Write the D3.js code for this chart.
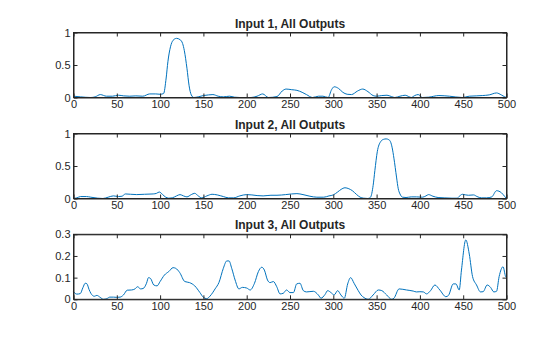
<!DOCTYPE html>
<html>
<head>
<meta charset="utf-8">
<script src="https://cdn.jsdelivr.net/npm/d3@7"></script>
<style>
  html, body { margin: 0; padding: 0; background: #fff; }
  svg { display: block; }
  .tick text { font-family: "Liberation Sans", Arial, Helvetica, sans-serif; font-size: 11px; fill: #262626; }
  .title { font-family: "Liberation Sans", Arial, Helvetica, sans-serif; font-size: 12px; font-weight: bold; fill: #262626; }
</style>
</head>
<body>
<svg id="chart" width="560" height="337"></svg>
<script>
// Frequency grid positions and magnitudes for each input (all outputs)
const input1X = [0, 8, 20, 25, 31, 38, 45, 52, 58, 65, 72, 80, 88, 95, 100, 104, 107, 109, 112, 115, 119, 123, 126, 128, 131, 133.5, 136, 139, 144, 150, 156, 161, 167, 173, 180, 186, 192, 205, 212, 218.5, 225, 235, 241, 245.5, 252, 258, 264, 269, 276, 283, 288, 294, 298, 301, 306, 311, 316, 321, 328, 334, 340, 346, 350, 356, 362, 367, 371, 377, 383, 387, 390, 394, 398, 403, 410, 422, 434, 449, 457, 465, 472, 480, 488.5, 494, 498, 500];
const input1Y = [0.02, 0.01, 0.0, 0.01, 0.045, 0.02, 0.02, 0.035, 0.025, 0.02, 0.025, 0.02, 0.055, 0.055, 0.05, 0.06, 0.3, 0.55, 0.78, 0.88, 0.91, 0.89, 0.83, 0.72, 0.45, 0.18, 0.04, 0.0, 0.01, 0.03, 0.04, 0.045, 0.02, 0.01, 0.02, 0.005, 0.0, 0.0, 0.02, 0.055, 0.0, 0.015, 0.1, 0.13, 0.12, 0.11, 0.08, 0.045, 0.0, 0.02, 0.02, 0.0, 0.12, 0.165, 0.14, 0.08, 0.05, 0.045, 0.1, 0.13, 0.09, 0.03, 0.02, 0.03, 0.035, 0.015, 0.0, 0.02, 0.035, 0.015, 0.0, 0.03, 0.045, 0.0, 0.005, 0.03, 0.02, 0.0, 0.02, 0.025, 0.03, 0.04, 0.07, 0.04, 0.01, 0.0];

const input2X = [0, 4, 8, 15, 20, 28, 34, 40, 46, 52, 56, 60, 66, 73, 82, 92, 96, 99, 103, 106, 110, 114, 119, 123, 127, 131, 136, 140, 144, 148, 154, 160, 166, 173, 179, 185, 192, 200, 206, 212, 219, 228, 235, 245, 252, 258, 265, 273, 281, 289, 295, 300, 305, 309, 313.5, 318, 322, 327, 331, 335, 340, 343, 346, 348, 350.8, 354.7, 358, 361, 364, 366, 368, 370, 373, 375, 377, 380, 384, 390, 396, 403, 407, 410, 415, 421, 428, 437, 443, 446, 449, 453, 456, 462, 466, 471, 477, 483, 488.5, 494, 498, 500];
const input2Y = [0.0, 0.01, 0.03, 0.03, 0.02, 0.005, 0.0, 0.02, 0.04, 0.03, 0.035, 0.07, 0.065, 0.06, 0.065, 0.07, 0.08, 0.1, 0.06, 0.025, 0.005, 0.01, 0.04, 0.06, 0.04, 0.025, 0.06, 0.08, 0.04, 0.01, 0.04, 0.065, 0.055, 0.03, 0.01, 0.01, 0.04, 0.06, 0.055, 0.045, 0.04, 0.05, 0.05, 0.06, 0.07, 0.075, 0.06, 0.035, 0.02, 0.02, 0.04, 0.055, 0.1, 0.14, 0.165, 0.15, 0.12, 0.06, 0.02, 0.005, 0.0, 0.02, 0.2, 0.43, 0.72, 0.875, 0.91, 0.917, 0.905, 0.875, 0.78, 0.62, 0.33, 0.15, 0.07, 0.02, 0.015, 0.025, 0.025, 0.02, 0.04, 0.06, 0.035, 0.015, 0.01, 0.005, 0.005, 0.04, 0.065, 0.055, 0.05, 0.055, 0.03, 0.01, 0.01, 0.025, 0.12, 0.09, 0.03, 0.0];

const input3X = [0, 3.8, 7.7, 11, 13.5, 15.4, 18, 20, 24, 27, 30.8, 34.6, 38.5, 42, 46, 50, 53.8, 57.7, 62, 67, 71, 74, 77.5, 80.5, 84.3, 86.6, 89, 92.7, 96.5, 100, 105, 110, 115, 118, 122.7, 128.5, 134, 140, 146, 150, 153.8, 157.7, 163.5, 168, 173, 177, 179.6, 182.7, 186.6, 191, 195, 200, 204, 209, 213.5, 217.4, 220.4, 224, 227, 230.8, 234.7, 238.5, 242.3, 246, 250, 254, 257.7, 261.5, 265.4, 269, 277, 282.7, 285.8, 290.4, 293.5, 297.3, 301, 305, 308.8, 312.7, 316.6, 320, 324, 328.8, 332, 335.4, 340.4, 346, 352, 356, 361.6, 367.4, 370, 376, 384.6, 392.3, 396, 400, 404, 407.7, 412.3, 417.3, 423, 430, 433, 438.5, 441.6, 445.4, 448, 453, 457, 460.8, 465.4, 470, 473, 477.7, 481.6, 485.4, 488.5, 491.5, 496, 499, 500];
const input3Y = [0.035, 0.024, 0.026, 0.055, 0.074, 0.072, 0.045, 0.028, 0.014, 0.018, 0.009, 0.0, 0.003, 0.01, 0.01, 0.009, 0.01, 0.02, 0.042, 0.043, 0.048, 0.058, 0.048, 0.05, 0.074, 0.1, 0.096, 0.066, 0.062, 0.082, 0.112, 0.128, 0.146, 0.143, 0.123, 0.082, 0.077, 0.062, 0.031, 0.009, 0.003, 0.015, 0.048, 0.078, 0.143, 0.177, 0.177, 0.143, 0.089, 0.048, 0.055, 0.052, 0.043, 0.074, 0.128, 0.148, 0.135, 0.089, 0.077, 0.082, 0.058, 0.025, 0.028, 0.043, 0.031, 0.031, 0.071, 0.074, 0.04, 0.034, 0.037, 0.02, 0.005, 0.022, 0.04, 0.031, 0.02, 0.04, 0.02, 0.005, 0.071, 0.1, 0.074, 0.04, 0.02, 0.008, 0.0, 0.02, 0.043, 0.04, 0.02, 0.0, 0.005, 0.048, 0.043, 0.038, 0.034, 0.035, 0.034, 0.025, 0.04, 0.066, 0.043, 0.012, 0.018, 0.071, 0.071, 0.043, 0.135, 0.274, 0.209, 0.105, 0.066, 0.034, 0.035, 0.066, 0.055, 0.034, 0.037, 0.105, 0.15, 0.105, 0.1];

const titles = ["Input 1, All Outputs", "Input 2, All Outputs", "Input 3, All Outputs"];
const xTicks = [0, 50, 100, 150, 200, 250, 300, 350, 400, 450, 500];
const yTicks1 = [0, 0.5, 1];
const yTicks2 = [0, 0.5, 1];
const yTicks3 = [0, 0.1, 0.2, 0.3];
const yMax = [1, 1, 0.3];

const panels = [
  { title: titles[0], xs: input1X, ys: input1Y, yTicks: yTicks1, yMax: yMax[0], top: 32.5 },
  { title: titles[1], xs: input2X, ys: input2Y, yTicks: yTicks2, yMax: yMax[1], top: 133.5 },
  { title: titles[2], xs: input3X, ys: input3Y, yTicks: yTicks3, yMax: yMax[2], top: 234.3 }
];

const left = 73.5, right = 506.5, plotH = 65;
const axisColor = "#262626";
const lineColor = "#0072BD";
const svg = d3.select("#chart");

panels.forEach(p => {
  const x = d3.scaleLinear().domain([0, 500]).range([left, right]);
  const y = d3.scaleLinear().domain([0, p.yMax]).range([p.top + plotH, p.top]);
  const g = svg.append("g");

  const fmt = d => String(d);

  // data trace
  const pts = p.xs.map((v, i) => [v, p.ys[i]]);
  g.append("path")
    .datum(pts)
    .attr("fill", "none")
    .attr("stroke", lineColor)
    .attr("stroke-width", 1)
    .attr("stroke-linejoin", "round")
    .attr("d", d3.line().x(d => x(d[0])).y(d => y(d[1])).curve(d3.curveMonotoneX));

  // axes: inward ticks on all four sides
  const bottom = g.append("g").attr("transform", `translate(0,${p.top + plotH})`)
    .call(d3.axisBottom(x).tickValues(xTicks).tickFormat(fmt).tickSize(-4).tickPadding(3).tickSizeOuter(0));
  const top = g.append("g").attr("transform", `translate(0,${p.top})`)
    .call(d3.axisTop(x).tickValues(xTicks).tickFormat("").tickSize(-4).tickSizeOuter(0));
  const leftAx = g.append("g").attr("transform", `translate(${left},0)`)
    .call(d3.axisLeft(y).tickValues(p.yTicks).tickFormat(fmt).tickSize(-4).tickPadding(3).tickSizeOuter(0));
  const rightAx = g.append("g").attr("transform", `translate(${right},0)`)
    .call(d3.axisRight(y).tickValues(p.yTicks).tickFormat("").tickSize(-4).tickSizeOuter(0));

  [bottom, top, leftAx, rightAx].forEach(a => {
    a.select(".domain").attr("stroke", axisColor);
    a.selectAll(".tick line").attr("stroke", axisColor);
    a.attr("font-size", null).attr("font-family", null);
  });

  g.append("rect")
    .attr("x", left).attr("y", p.top)
    .attr("width", right - left).attr("height", plotH)
    .attr("fill", "none").attr("stroke", axisColor).attr("stroke-width", 1);

  g.append("text")
    .attr("class", "title")
    .attr("x", (left + right) / 2)
    .attr("y", p.top - 5)
    .attr("text-anchor", "middle")
    .text(p.title);
});
</script>
</body>
</html>
